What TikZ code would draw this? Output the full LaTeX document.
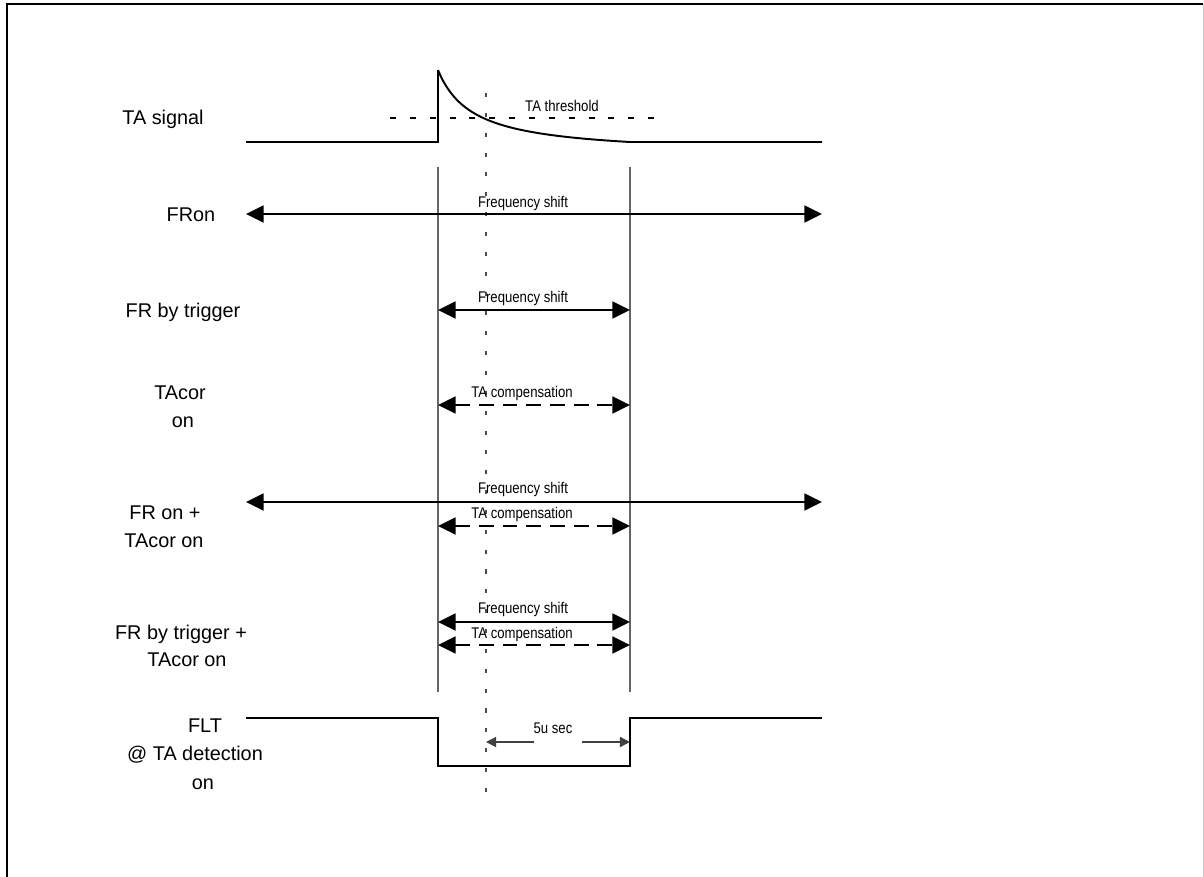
\documentclass[tikz,border=0pt]{standalone}
\usepackage{fontspec}
\setmainfont{Liberation Sans}
\newfontfamily\narrowfont[FakeStretch=0.85]{Liberation Sans}
\usetikzlibrary{arrows.meta}

\begin{document}
\begin{tikzpicture}[x=0.02cm, y=-0.02cm,
		sig/.style={line width=1.1pt, black},
		evt/.style={line width=0.7pt, black!60},
		fshift/.style={line width=1.1pt, {Triangle[length=10pt,width=9.6pt]}-{Triangle[length=10pt,width=9.6pt]}},
		tacomp/.style={fshift, dash pattern=on 8.5pt off 5pt},
		lbl/.style={anchor=base, font=\fontsize{11.3}{13}\selectfont},
		small/.style={anchor=base, inner sep=0pt, font=\narrowfont\fontsize{8.8}{10}\selectfont}]
			%%%%% START %%%%%
			\useasboundingbox (0,0) rectangle (1204,876);
			
			% frame
			\draw[line width=1.3pt] (7,880) -- (7,4) -- (1203,4);
			\draw[line width=0.5pt, black!20] (1203,4) -- (1203,880);
			
			% event lines
			\draw[evt] (438,167) -- (438,692);
			\draw[evt] (630,167) -- (630,692);
			\draw[line width=0.8pt, black!70, dash pattern=on 2.3pt off 9pt] (486,93) -- (486,806);
			
			% row labels
			\node[lbl] (lTA) at (163,124) {TA signal};
			\node[lbl] (lFRon) at (191,221) {FRon};
			\node[lbl] (lFRtrig) at (183,317) {FR by trigger};
			\node[lbl] (lTAcor) at (180,399) {TAcor};
			\node[lbl] (lTAcorB) at (183,427) {on};
			\node[lbl] (lBoth) at (165,519) {FR on +};
			\node[lbl] (lBothB) at (164,547) {TAcor on};
			\node[lbl] (lTrig) at (181,639) {FR by trigger +};
			\node[lbl] (lTrigB) at (187,666) {TAcor on};
			\node[lbl] (lFLT) at (205,732) {FLT};
			\node[lbl] (lFLTB) at (195,760) {@ TA detection};
			\node[lbl] (lFLTC) at (203,789) {on};
			
			% TA signal with threshold
			\draw[line width=0.6pt, dash pattern=on 3.4pt off 7.9pt] (390,118) -- (665,118);
			\node[small] (thr) at (562,111) {TA threshold};
			\draw[sig] (246,142) -- (438,142) -- (438,70)
				plot[domain=438:630, samples=90, smooth] (\x, {142 - 72*(35/(\x-438+35) - 0.1542)/0.8458})
				-- (822,142);
			
			% FRon
			\draw[fshift] (246,214) -- (822,214);
			\node[small] (fs1) at (523,207) {Frequency shift};
			
			% FR by trigger
			\draw[fshift] (438,310) -- (630,310);
			\node[small] (fs2) at (523,302) {Frequency shift};
			
			% TAcor on
			\draw[tacomp] (438,405) -- (630,405);
			\node[small] (tc1) at (522,397) {TA compensation};
			
			% FR on + TAcor on
			\draw[fshift] (246,502) -- (822,502);
			\node[small] (fs3) at (523,493) {Frequency shift};
			\draw[tacomp] (438,526) -- (630,526);
			\node[small] (tc2) at (522,518) {TA compensation};
			
			% FR by trigger + TAcor on
			\draw[fshift] (438,622) -- (630,622);
			\node[small] (fs4) at (523,613) {Frequency shift};
			\draw[tacomp] (438,645) -- (630,645);
			\node[small] (tc3) at (522,638) {TA compensation};
			
			% FLT
			\draw[sig] (246,718) -- (438,718) -- (438,766) -- (630,766) -- (630,718) -- (822,718);
			\node[small] (dt) at (553,733) {5u sec};
			\draw[line width=0.8pt, black!75, -{Triangle[length=5.7pt,width=5.7pt]}] (534,742) -- (486,742);
			\draw[line width=0.8pt, black!75, -{Triangle[length=5.7pt,width=5.7pt]}] (582,742) -- (630,742);
			
			%%%%% END %%%%%
\end{tikzpicture}
\end{document}
